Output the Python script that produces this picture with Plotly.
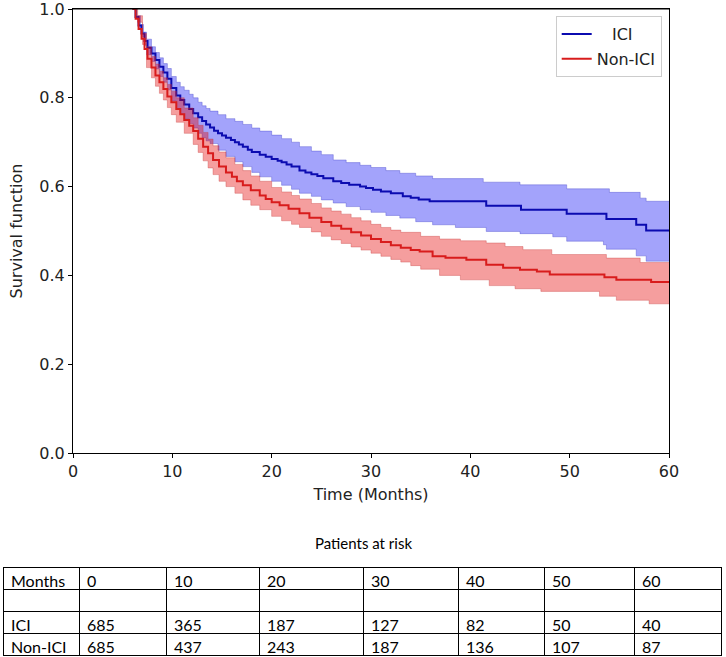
import plotly.graph_objects as go

# ---------------- data ----------------
ici_t = [6.0, 6.3, 6.6, 6.9, 7.2, 7.5, 7.9, 8.3, 8.7, 9.1, 9.5, 9.9, 10.4, 10.8, 11.2, 11.7, 12.1,
         12.6, 13.0, 13.4, 13.8, 14.2, 14.6, 15.0, 15.4, 15.9, 16.3, 16.7, 17.1, 17.6, 18.0, 18.8,
         19.4, 20.0, 20.6, 21.0, 21.5, 22.0, 22.8, 23.4, 24.0, 24.6, 25.2, 26.2, 27.0, 27.8, 28.9,
         29.5, 30.2, 31.0, 32.0, 33.2, 34.0, 34.8, 35.9, 41.6, 45.1, 49.7, 53.7, 56.7, 57.7, 60]
ici_s = [1.0, 0.982, 0.963, 0.945, 0.928, 0.913, 0.900, 0.885, 0.870, 0.857, 0.843, 0.822, 0.805,
         0.795, 0.785, 0.775, 0.765, 0.756, 0.748, 0.740, 0.733, 0.726, 0.720, 0.715, 0.710, 0.705,
         0.700, 0.695, 0.690, 0.683, 0.678, 0.672, 0.667, 0.662, 0.658, 0.655, 0.650, 0.645, 0.636,
         0.632, 0.628, 0.624, 0.619, 0.612, 0.608, 0.604, 0.600, 0.597, 0.593, 0.589, 0.585, 0.578,
         0.575, 0.571, 0.567, 0.557, 0.548, 0.539, 0.527, 0.514, 0.501, 0.501]

ici_up_t = [6.0, 6.4, 6.8, 7.1, 7.4, 7.9, 8.3, 8.7, 9.1, 9.5, 9.9, 10.4, 10.8, 11.2, 11.7, 12.1,
            12.6, 13.0, 13.4, 13.8, 14.6, 15.4, 16.3, 17.1, 18.0, 18.8, 20.0, 21.0, 22.0, 22.8,
            24.0, 25.0, 26.2, 27.5, 28.9, 30.0, 31.5, 32.9, 34.5, 36.2, 41.3, 45.0, 49.7, 54.0,
            57.1, 57.7, 60]
ici_up = [1.0, 0.985, 0.965, 0.948, 0.932, 0.915, 0.902, 0.89, 0.877, 0.866, 0.848, 0.835, 0.825,
          0.817, 0.808, 0.80, 0.79, 0.782, 0.776, 0.77, 0.762, 0.753, 0.747, 0.74, 0.732, 0.725,
          0.716, 0.708, 0.70, 0.69, 0.68, 0.672, 0.66, 0.654, 0.648, 0.643, 0.636, 0.63, 0.624,
          0.618, 0.61, 0.604, 0.595, 0.587, 0.574, 0.567, 0.567]

ici_lo_t = [6.0, 6.3, 6.6, 6.9, 7.2, 7.4, 7.9, 8.3, 8.7, 9.1, 9.5, 9.9, 10.4, 10.8, 11.2, 11.7,
            12.1, 12.6, 13.0, 13.4, 13.8, 14.6, 15.4, 16.3, 17.1, 18.0, 18.8, 20.0, 21.0, 22.0,
            22.8, 24.0, 25.0, 26.2, 27.5, 28.9, 30.0, 31.5, 32.9, 34.5, 36.2, 38.5, 41.6, 45.0,
            48.3, 49.7, 53.4, 53.7, 56.7, 57.7, 60]
ici_lo = [1.0, 0.978, 0.958, 0.938, 0.918, 0.897, 0.882, 0.865, 0.848, 0.835, 0.818, 0.793,
          0.775, 0.763, 0.752, 0.742, 0.732, 0.72, 0.71, 0.703, 0.697, 0.682, 0.668, 0.656,
          0.645, 0.632, 0.622, 0.612, 0.603, 0.594, 0.585, 0.578, 0.57, 0.563, 0.555, 0.548,
          0.542, 0.535, 0.529, 0.521, 0.514, 0.508, 0.499, 0.494, 0.487, 0.477, 0.469, 0.459,
          0.444, 0.432, 0.432]

non_t = [6.0, 6.3, 6.6, 6.9, 7.2, 7.5, 7.9, 8.3, 8.7, 9.1, 9.5, 9.9, 10.4, 10.8, 11.2, 11.7, 12.1,
         12.6, 13.1, 13.6, 14.1, 14.7, 15.4, 16.0, 16.5, 17.1, 17.9, 18.8, 19.4, 20.0, 20.8, 21.7,
         22.8, 23.8, 25.0, 26.0, 27.0, 28.0, 29.0, 30.0, 31.0, 32.0, 33.0, 34.0, 34.9, 36.2, 37.5,
         39.6, 41.6, 43.3, 45.0, 46.7, 48.0, 53.5, 54.7, 58.2, 60]
non_s = [1.0, 0.978, 0.955, 0.933, 0.91, 0.888, 0.868, 0.85, 0.835, 0.82, 0.803, 0.79, 0.775,
         0.763, 0.75, 0.737, 0.725, 0.708, 0.69, 0.675, 0.66, 0.645, 0.632, 0.622, 0.612, 0.603,
         0.592, 0.58, 0.572, 0.565, 0.558, 0.55, 0.54, 0.53, 0.52, 0.512, 0.505, 0.497, 0.49,
         0.482, 0.475, 0.468, 0.462, 0.457, 0.454, 0.443, 0.44, 0.435, 0.424, 0.417, 0.413,
         0.409, 0.402, 0.396, 0.39, 0.385, 0.385]

non_up_t = [6.0, 6.5, 7.0, 7.4, 7.9, 8.3, 8.7, 9.1, 9.5, 9.9, 10.4, 11.2, 12.1, 12.6, 13.1, 13.6,
            14.1, 14.7, 15.4, 16.3, 17.1, 17.9, 18.8, 20.0, 21.0, 22.0, 22.8, 24.0, 25.0, 26.0,
            27.0, 28.0, 29.0, 30.0, 31.0, 32.0, 33.0, 35.0, 36.9, 39.0, 41.6, 43.5, 45.3, 48.2,
            53.7, 57.1, 60]
non_up = [1.0, 0.985, 0.945, 0.915, 0.893, 0.876, 0.86, 0.845, 0.83, 0.815, 0.80, 0.777, 0.755,
          0.738, 0.722, 0.707, 0.692, 0.678, 0.665, 0.65, 0.636, 0.624, 0.612, 0.598, 0.588,
          0.58, 0.572, 0.562, 0.552, 0.545, 0.538, 0.53, 0.523, 0.515, 0.508, 0.502, 0.497,
          0.488, 0.482, 0.478, 0.473, 0.465, 0.458, 0.447, 0.439, 0.429, 0.429]

non_lo_t = [6.0, 6.5, 7.0, 7.4, 7.9, 8.3, 8.7, 9.1, 9.5, 9.9, 10.4, 11.2, 12.1, 12.6, 13.1, 13.6,
            14.1, 14.7, 15.4, 16.3, 17.1, 17.9, 18.8, 20.0, 21.0, 22.0, 22.8, 24.0, 25.0, 26.0,
            27.0, 28.0, 29.0, 30.0, 31.0, 32.0, 33.0, 34.0, 35.0, 36.9, 39.0, 41.9, 44.5, 47.1,
            53.0, 54.7, 58.0, 60]
non_lo = [1.0, 0.97, 0.92, 0.868, 0.845, 0.826, 0.81, 0.795, 0.778, 0.762, 0.745, 0.72, 0.695,
          0.677, 0.658, 0.642, 0.627, 0.612, 0.60, 0.585, 0.57, 0.558, 0.548, 0.533, 0.523, 0.515,
          0.508, 0.498, 0.488, 0.48, 0.472, 0.464, 0.457, 0.45, 0.443, 0.436, 0.43, 0.422, 0.414,
          0.400, 0.39, 0.377, 0.37, 0.364, 0.353, 0.344, 0.336, 0.336]

series_names = ["\u00a0\u00a0\u00a0ICI", "Non-ICI"]
x_ticks = [0, 10, 20, 30, 40, 50, 60]
y_ticks = [0.0, 0.2, 0.4, 0.6, 0.8, 1.0]
y_tick_labels = ["0.0", "0.2", "0.4", "0.6", "0.8", "1.0"]

risk_header = ["Months", "0", "10", "20", "30", "40", "50", "60"]
risk_rows = ["", "ICI", "Non-ICI"]
risk_ici = ["685", "365", "187", "127", "82", "50", "40"]
risk_non = ["685", "437", "243", "187", "136", "107", "87"]

# ---------------- figure ----------------
W, H = 726, 657
PL, PR, PT, PB = 73, 669, 9, 453

BLUE = "#0b0bb0"
RED = "#d81c1c"
BLUE_FILL = "rgba(0,0,245,0.36)"
RED_FILL = "rgba(230,0,0,0.38)"

fig = go.Figure()


def band(t_lo, lo, t_up, up, fill, edge):
    fig.add_trace(go.Scatter(x=t_lo, y=lo, mode="lines", line=dict(shape="hv", width=0.8, color=edge),
                             showlegend=False, hoverinfo="skip"))
    fig.add_trace(go.Scatter(x=t_up, y=up, mode="lines", line=dict(shape="hv", width=0.8, color=edge),
                             fill="tonexty", fillcolor=fill, showlegend=False, hoverinfo="skip"))


band(ici_lo_t, ici_lo, ici_up_t, ici_up, BLUE_FILL, "rgba(60,60,200,0.45)")
fig.add_trace(go.Scatter(x=ici_t, y=ici_s, mode="lines", name=series_names[0], legendgroup="a",
                         line=dict(shape="hv", width=2, color=BLUE)))
band(non_lo_t, non_lo, non_up_t, non_up, RED_FILL, "rgba(200,60,60,0.45)")
fig.add_trace(go.Scatter(x=non_t, y=non_s, mode="lines", name=series_names[1], legendgroup="b",
                         line=dict(shape="hv", width=2, color=RED)))

# at-risk table
fig.add_trace(go.Table(
    domain=dict(x=[3 / W, 721 / W], y=[0, (H - 567) / H]),
    columnwidth=[76, 87, 93, 104, 95, 86, 90, 87],
    header=dict(values=risk_header, align="left", height=22,
                fill_color="white", line=dict(color="black", width=1),
                font=dict(family="Lato", size=16, color="black")),
    cells=dict(values=[risk_rows] + [["", a, b] for a, b in zip(risk_ici, risk_non)],
               align="left", height=22, fill_color="white",
               line=dict(color="black", width=1),
               font=dict(family="Lato", size=16, color="black")),
))

axis_font = dict(family="DejaVu Sans", size=16, color="#222")
fig.update_layout(
    width=W, height=H,
    margin=dict(l=0, r=0, t=0, b=0, autoexpand=False),
    paper_bgcolor="white", plot_bgcolor="white",
    font=dict(family="DejaVu Sans", size=16, color="#222"),
    xaxis=dict(domain=[PL / W, PR / W], range=[0, 60], tickvals=x_ticks, automargin=False,
               showgrid=False, zeroline=False, showline=True, mirror=True,
               linecolor="black", linewidth=1, ticks="outside", ticklen=4, tickcolor="black",
               tickfont=axis_font, ticklabeloverflow="allow",
               title=dict(text="Time (Months)", font=axis_font, standoff=8)),
    yaxis=dict(domain=[(H - PB) / H, (H - PT) / H], range=[0, 1], tickvals=y_ticks,
               ticktext=y_tick_labels, automargin=False, ticklabeloverflow="allow",
               showgrid=False, zeroline=False, showline=True, mirror=True,
               linecolor="black", linewidth=1, ticks="outside", ticklen=4, tickcolor="black",
               tickfont=axis_font,
               title=dict(text="Survival function", font=axis_font, standoff=12)),
    legend=dict(x=661.7 / W, y=(H - 16) / H, xanchor="right", yanchor="top",
                bgcolor="white", bordercolor="#cccccc", borderwidth=1,
                font=dict(family="DejaVu Sans", size=16, color="#222"),
                tracegroupgap=1),
    shapes=[dict(type="line", xref="x domain", yref="y domain", x0=0, x1=1, y0=1, y1=1,
                 line=dict(color="black", width=1.2), layer="above")],
    annotations=[dict(text="Patients at risk", x=363 / W, y=(H - 543) / H, xref="paper",
                      yref="paper", xanchor="center", yanchor="middle", showarrow=False,
                      font=dict(family="Lato", size=15, color="black"))],
)

fig.write_html("out.html")
